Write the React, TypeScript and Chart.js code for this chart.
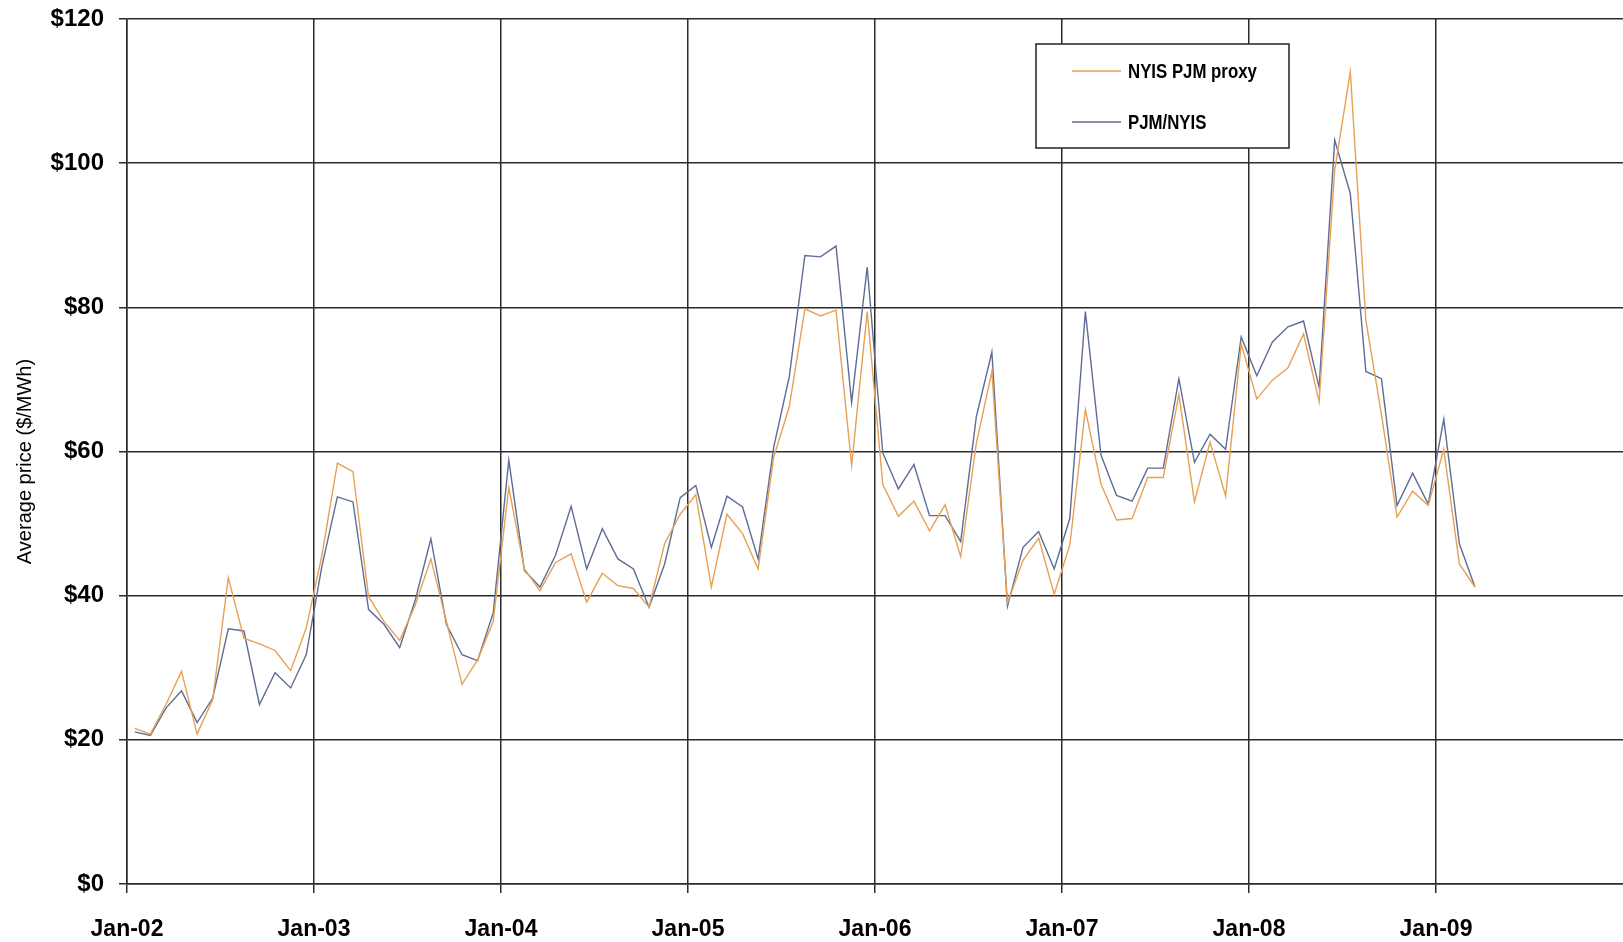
import React, { useEffect, useRef } from 'react';
import { Chart, registerables } from 'chart.js';

Chart.register(...registerables);

// Monthly average prices, Jan-02 .. Mar-09 ($/MWh)
const nyisPjmProxy = [
  21.6, 20.8, 24.9, 29.5, 20.8, 25.6, 42.5, 34.1, 33.3, 32.4, 29.6, 35.5,
  45.5, 58.4, 57.2, 39.9, 36.4, 33.8, 38.7, 45.1, 36.4, 27.7, 31.1, 36.4,
  55.0, 43.7, 40.7, 44.6, 45.8, 39.1, 43.1, 41.4, 41.0, 38.4, 47.2, 51.3,
  54.0, 41.2, 51.3, 48.6, 43.7, 59.2, 66.2, 79.8, 78.8, 79.6, 58.1, 79.4,
  55.4, 51.0, 53.1, 49.0, 52.6, 45.4, 61.1, 71.1, 39.0, 44.9, 48.0, 40.2,
  47.0, 65.8, 55.5, 50.5, 50.7, 56.4, 56.4, 67.9, 53.0, 61.3, 53.8, 74.9,
  67.3, 69.9, 71.6, 76.3, 66.9, 99.0, 112.7, 78.2, 65.1, 50.9, 54.5, 52.5,
  60.3, 44.4, 41.2,
];

const pjmNyis = [
  21.1, 20.6, 24.4, 26.8, 22.4, 25.8, 35.4, 35.1, 24.9, 29.3, 27.2, 31.8,
  44.0, 53.7, 53.0, 38.1, 36.0, 32.8, 39.4, 47.9, 36.0, 31.8, 31.0, 37.6,
  58.8, 43.5, 41.2, 45.6, 52.4, 43.7, 49.3, 45.1, 43.7, 38.4, 44.4, 53.6,
  55.3, 46.7, 53.8, 52.3, 45.1, 60.6, 70.4, 87.2, 87.0, 88.5, 66.8, 85.6,
  59.8, 54.8, 58.2, 51.1, 51.1, 47.5, 64.8, 73.8, 38.5, 46.7, 48.9, 43.7,
  50.7, 79.4, 59.5, 53.9, 53.1, 57.7, 57.7, 70.1, 58.5, 62.4, 60.3, 75.9,
  70.5, 75.2, 77.3, 78.1, 68.9, 103.2, 95.8, 71.1, 70.1, 52.5, 57.0, 52.7,
  64.5, 47.2, 41.2,
];

const seriesLabels = ['NYIS PJM proxy', 'PJM/NYIS'];
const xTickLabels = ['Jan-02', 'Jan-03', 'Jan-04', 'Jan-05', 'Jan-06', 'Jan-07', 'Jan-08', 'Jan-09'];
const yTickValues = [0, 20, 40, 60, 80, 100, 120];
const yAxisTitle = 'Average price ($/MWh)';

const ORANGE = '#E6A154';
const BLUE = '#5E6C96';
const GRID = '#2b2b2b';
const FONT = "'Liberation Sans', Arial, sans-serif";

export default function App() {
  const ref = useRef<HTMLCanvasElement>(null);

  useEffect(() => {
    document.body.style.margin = '0';
    const canvas = ref.current;
    if (!canvas) return;
    const toPoints = (arr: number[]) => arr.map((v, i) => ({ x: i + 0.5, y: v }));

    const legendPlugin = {
      id: 'boxLegend',
      afterDraw(chart: any) {
        const ctx = chart.ctx as CanvasRenderingContext2D;
        ctx.save();
        const bx = 1036, by = 44, bw = 253, bh = 104;
        ctx.fillStyle = '#fff';
        ctx.fillRect(bx, by, bw, bh);
        ctx.strokeStyle = '#222';
        ctx.lineWidth = 1.5;
        ctx.strokeRect(bx, by, bw, bh);
        chart.data.datasets.forEach((ds: any, i: number) => {
          const yy = 71 + i * 51;
          ctx.strokeStyle = ds.borderColor;
          ctx.lineWidth = 1.5;
          ctx.beginPath();
          ctx.moveTo(1072, yy);
          ctx.lineTo(1121, yy);
          ctx.stroke();
          ctx.save();
          ctx.translate(1128, yy + 1.5);
          ctx.scale(0.84, 1);
          ctx.fillStyle = '#000';
          ctx.font = `bold 20px ${FONT}`;
          ctx.textAlign = 'left';
          ctx.textBaseline = 'middle';
          ctx.fillText(ds.label, 0, 0);
          ctx.restore();
        });
        ctx.restore();
      },
    };

    const yTitlePlugin = {
      id: 'yTitle',
      afterDraw(chart: any) {
        const ctx = chart.ctx as CanvasRenderingContext2D;
        const area = chart.chartArea;
        ctx.save();
        ctx.translate(25, (area.top + area.bottom) / 2 + 10);
        ctx.rotate(-Math.PI / 2);
        ctx.font = `20px ${FONT}`;
        ctx.fillStyle = '#000';
        ctx.textAlign = 'center';
        ctx.textBaseline = 'middle';
        ctx.fillText(yAxisTitle, 0, 0);
        ctx.restore();
      },
    };

    const chart = new Chart(canvas, {
      type: 'line',
      data: {
        datasets: [
          {
            label: seriesLabels[0],
            data: toPoints(nyisPjmProxy),
            borderColor: ORANGE,
            backgroundColor: ORANGE,
            borderWidth: 1.4,
            pointRadius: 0,
            tension: 0,
            fill: false,
          },
          {
            label: seriesLabels[1],
            data: toPoints(pjmNyis),
            borderColor: BLUE,
            backgroundColor: BLUE,
            borderWidth: 1.4,
            pointRadius: 0,
            tension: 0,
            fill: false,
          },
        ],
      },
      options: {
        animation: false,
        responsive: false,
        devicePixelRatio: 1,
        layout: { padding: { top: 19, left: 0, right: 0, bottom: 0 } },
        plugins: { legend: { display: false }, tooltip: { enabled: false } },
        scales: {
          x: {
            type: 'linear',
            min: 0,
            max: xTickLabels.length * 12,
            afterBuildTicks: (s: any) => {
              s.ticks = xTickLabels.map((_, i) => ({ value: i * 12 }));
            },
            afterFit: (s: any) => {
              s.height = 58;
              s.paddingLeft = 0;
              s.paddingRight = 0;
            },
            ticks: {
              autoSkip: false,
              maxRotation: 0,
              padding: 23,
              color: '#000',
              font: { family: FONT, size: 23, weight: 'bold' },
              callback: (v: any) => xTickLabels[Math.round(Number(v) / 12)] ?? '',
            },
            grid: { color: GRID, lineWidth: 1.5, tickLength: 9 },
            border: { color: GRID, width: 1.5 },
          },
          y: {
            type: 'linear',
            min: 0,
            max: 120,
            afterBuildTicks: (s: any) => {
              s.ticks = yTickValues.map((v) => ({ value: v }));
            },
            afterFit: (s: any) => {
              s.width = 127;
              s.paddingTop = 0;
              s.paddingBottom = 0;
            },
            ticks: {
              autoSkip: false,
              padding: 15,
              color: '#000',
              font: { family: FONT, size: 24, weight: 'bold' },
              callback: (v: any) => '$' + v,
            },
            grid: { color: GRID, lineWidth: 1.5, tickLength: 8 },
            border: { color: GRID, width: 1.5 },
          },
        },
      },
      plugins: [legendPlugin, yTitlePlugin],
    });

    return () => chart.destroy();
  }, []);

  return (
    <div style={{ position: 'absolute', left: 0, top: 0, width: 1623, height: 942, background: '#fff' }}>
      <canvas ref={ref} width={1623} height={942} style={{ display: 'block' }} />
    </div>
  );
}
